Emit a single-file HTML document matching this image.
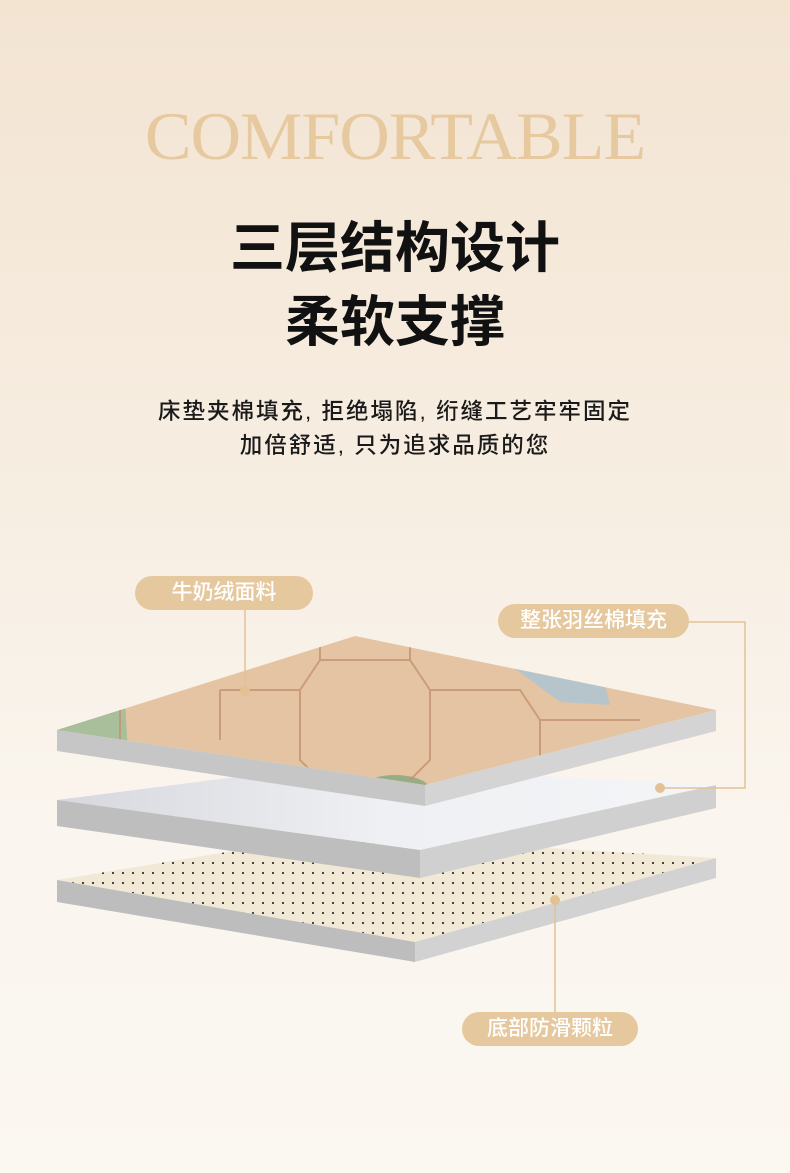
<!DOCTYPE html>
<html><head><meta charset="utf-8"><style>
html,body{margin:0;padding:0}
body{width:790px;height:1173px;overflow:hidden;position:relative;background:linear-gradient(#f3e4d2 0%,#f6ecdf 35%,#faf5ee 70%,#fbf7f1 100%);font-family:"Liberation Sans","Noto Sans CJK SC",sans-serif}
.t{position:absolute;left:0;width:790px;text-align:center;color:#111}
.pill{position:absolute;background:#e6c89f;color:#fff;border-radius:17px;height:34px;line-height:34px;text-align:center;font-size:21px;font-weight:500;font-family:"Liberation Sans","Noto Sans CJK SC",sans-serif}
</style></head><body>
<div class="t" style="top:96px;font-family:'Liberation Serif','Noto Serif CJK SC',serif;font-size:68px;color:#e6c99e;letter-spacing:-1px;line-height:80px;transform:scaleX(1.03)">COMFORTABLE</div>
<div class="t" style="top:216px;font-size:55px;font-weight:bold;line-height:64px">三层结构设计</div>
<div class="t" style="top:290px;font-size:55px;font-weight:bold;line-height:64px">柔软支撑</div>
<div class="t" style="top:397px;font-size:22.5px;line-height:30px;color:#1a1a1a;font-weight:500;letter-spacing:2px">床垫夹棉填充, 拒绝塌陷, 绗缝工艺牢牢固定</div>
<div class="t" style="top:431px;font-size:22.5px;line-height:30px;color:#1a1a1a;font-weight:500;letter-spacing:2px">加倍舒适, 只为追求品质的您</div>
<svg style="position:absolute;left:0;top:0" width="790" height="1173">
<defs>
<pattern id="dots" width="10" height="10" patternUnits="userSpaceOnUse"><rect width="10" height="10" fill="#f1e9d6"/><circle cx="3" cy="3" r="1.1" fill="#333"/></pattern>
<linearGradient id="mid" x1="0" y1="0" x2="1" y2="0"><stop offset="0" stop-color="#d6d8de"/><stop offset="0.5" stop-color="#eef0f3"/><stop offset="1" stop-color="#f4f5f7"/></linearGradient>
<clipPath id="topc"><polygon points="57,730 355,636 716,710 425,785"/></clipPath>
</defs>
<polygon points="57,880 330,835 716,858 415,942" fill="url(#dots)"/>
<polygon points="57,880 415,942 415,962 57,902" fill="#bdbdbd"/>
<polygon points="415,942 716,858 716,878 415,962" fill="#d2d2d2"/>
<polygon points="57,800 330,765 716,785 420,850" fill="url(#mid)"/>
<polygon points="57,800 420,850 420,878 57,826" fill="#bebebe"/>
<polygon points="420,850 716,785 716,808 420,878" fill="#d0d0d0"/>
<polygon points="57,730 355,636 716,710 425,785" fill="#e5c4a4"/>
<g clip-path="url(#topc)">
<polygon points="50,700 125,700 130,790 50,790" fill="#a9bf9b"/>
<polygon points="510,665 600,665 610,705 560,702" fill="#aec6d4" opacity="0.85"/>
<ellipse cx="395" cy="790" rx="35" ry="15" fill="#97ad85"/>
<g stroke="#c4926e" stroke-width="2" fill="none" opacity="0.8">
<path d="M120,755 L120,700 M220,740 L220,690 M300,690 L320,660 L410,660 L430,690 L430,760 L410,780 M300,690 L300,760 L320,780 M430,690 L520,690 L540,720 L540,790 M220,690 L300,690 M320,660 L320,620 M410,660 L410,620 M540,720 L640,720"/>
</g>
</g>
<polygon points="57,730 425,785 425,806 57,751" fill="#c6c6c6"/>
<polygon points="425,785 716,710 716,731 425,806" fill="#d4d4d4"/>
<g stroke="#e2c295" stroke-width="1.5" fill="none">
<line x1="245" y1="610" x2="245" y2="690"/>
<polyline points="689,622 745,622 745,788 660,788"/>
<line x1="555" y1="900" x2="555" y2="1013"/>
</g>
<circle cx="245" cy="691" r="5" fill="#e2c295"/>
<circle cx="660" cy="788" r="5" fill="#e2c295"/>
<circle cx="555" cy="900" r="5" fill="#e2c295"/>
</svg>
<div class="pill" style="left:135px;top:576px;width:178px">牛奶绒面料</div>
<div class="pill" style="left:498px;top:604px;width:191px">整张羽丝棉填充</div>
<div class="pill" style="left:462px;top:1012px;width:176px">底部防滑颗粒</div>
</body></html>
